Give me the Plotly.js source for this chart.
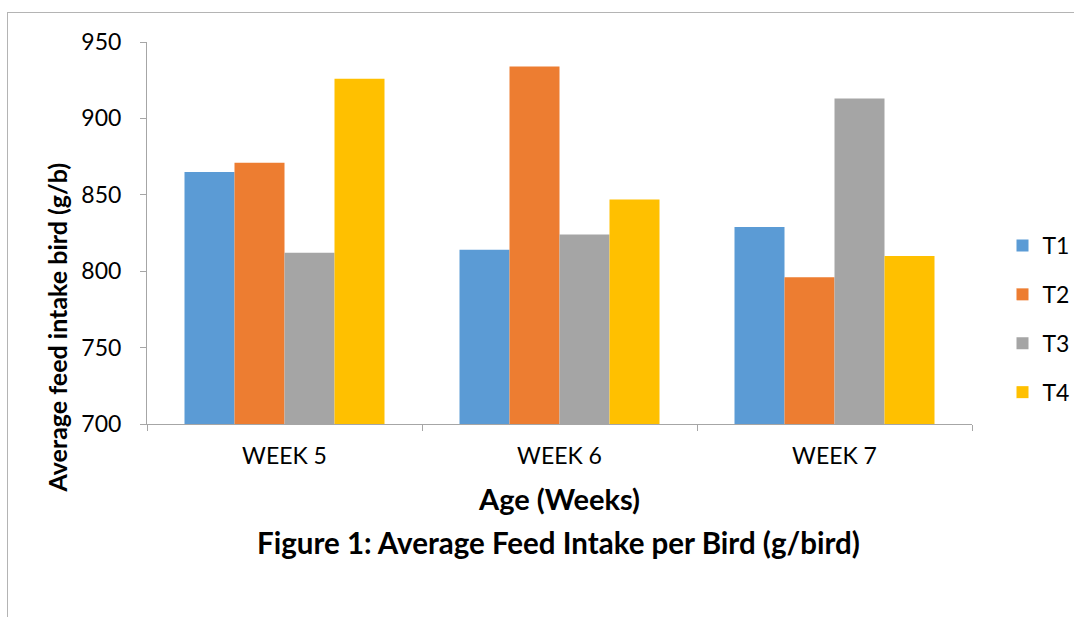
<!DOCTYPE html>
<html>
<head>
<meta charset="utf-8">
<script src="https://cdn.plot.ly/plotly-3.0.1.min.js"></script>
<style>
  html, body { margin: 0; padding: 0; background: #ffffff; }
  #frame { position: absolute; left: 7px; top: 12px; width: 1067px; height: 605px;
           border-top: 1px solid #b4b4b4; border-left: 1px solid #b4b4b4; box-sizing: border-box; }
  #chart { position: absolute; left: 0; top: 0; width: 1074px; height: 617px; }
</style>
</head>
<body>
<div id="frame"></div>
<div id="chart"></div>
<script>
const categories = ["WEEK 5", "WEEK 6", "WEEK 7"];
const seriesNames = ["T1", "T2", "T3", "T4"];
const t1 = [865, 814, 829];
const t2 = [871, 934, 796];
const t3 = [812, 824, 913];
const t4 = [926, 847, 810];
const yTicks = [700, 750, 800, 850, 900, 950];
const colors = ["#5B9BD5", "#ED7D31", "#A5A5A5", "#FFC000"];

const FONT = "Lato, 'Open Sans', sans-serif";
const values = [t1, t2, t3, t4];

const traces = values.map((v, i) => ({
  type: "bar",
  name: seriesNames[i],
  x: categories,
  y: v,
  marker: { color: colors[i], line: { width: 0 } },
  legendgroup: "g" + i,
  hoverinfo: "x+y+name"
}));

const W = 1074, H = 617;
const L = 147, R = 102, T = 42, B = 193;
const PW = W - L - R, PH = H - T - B;

const layout = {
  width: W, height: H,
  margin: { l: L, r: R, t: T, b: B, pad: 0, autoexpand: false },
  paper_bgcolor: "rgba(0,0,0,0)",
  plot_bgcolor: "rgba(0,0,0,0)",
  barmode: "group",
  bargap: 0.2727,
  bargroupgap: 0,
  font: { family: FONT, color: "#000000", size: 23 },
  title: {
    text: "<b>Figure 1: Average Feed Intake per Bird (g/bird)</b>",
    font: { family: FONT, size: 29.5, color: "#000000" },
    xref: "container", yref: "container",
    x: 558.5 / W, y: 1 - 544 / H, xanchor: "center", yanchor: "middle"
  },
  xaxis: {
    type: "category",
    showline: true, linecolor: "#a6a6a6", linewidth: 1,
    ticks: "outside", tickson: "boundaries", ticklen: 6, tickcolor: "#a6a6a6",
    tickfont: { family: FONT, size: 23, color: "#000000" },
    ticklabelstandoff: 11,
    showgrid: false, zeroline: false,
    title: { text: "<b>Age (Weeks)</b>", font: { family: FONT, size: 29, color: "#000000" }, standoff: 22 }
  },
  yaxis: {
    range: [700, 950],
    tickvals: yTicks,
    ticktext: yTicks.map(String),
    showline: true, linecolor: "#a6a6a6", linewidth: 1,
    ticks: "outside", ticklen: 6, tickcolor: "#a6a6a6",
    tickfont: { family: FONT, size: 23, color: "#000000" },
    ticklabelstandoff: 14,
    showgrid: false, zeroline: false,
    title: { text: "" }
  },
  legend: {
    x: (1002.5 - L) / PW, xanchor: "left",
    y: (424 - 224) / PH, yanchor: "top",
    traceorder: "grouped",
    tracegroupgap: 16,
    font: { family: FONT, size: 23, color: "#000000" },
    bgcolor: "rgba(0,0,0,0)",
    itemclick: false, itemdoubleclick: false
  },
  annotations: [{
    text: "<b>Average feed intake bird (g/b)</b>",
    xref: "paper", yref: "paper",
    x: (56 - L) / PW, y: (424 - 327.5) / PH,
    xanchor: "center", yanchor: "middle",
    textangle: -90, showarrow: false,
    font: { family: FONT, size: 25, color: "#000000" }
  }],
  showlegend: true
};

Plotly.newPlot("chart", traces, layout, { displayModeBar: false });
</script>
</body>
</html>
